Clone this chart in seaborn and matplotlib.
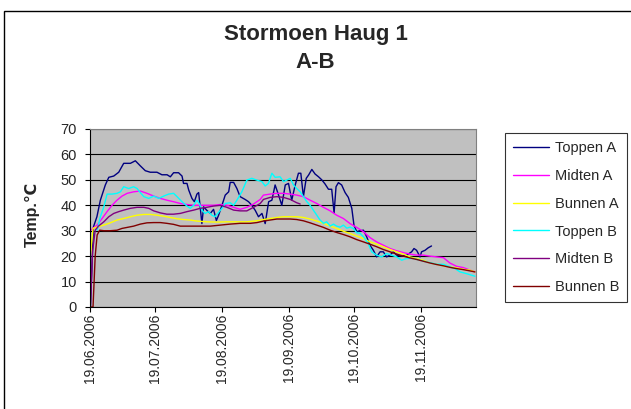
import numpy as np
import pandas as pd
import matplotlib
matplotlib.use("Agg")
import matplotlib.pyplot as plt
import matplotlib.patches as patches
import seaborn as sns

# ── Data (days after 19.06.2006, temperature in deg C)
START = pd.Timestamp("2006-06-19")

days_topA = [0, 1.4, 3.0, 4.6, 6.9, 8.5, 10.8, 13.1, 15.4, 18.5, 20.8, 23.1, 25.4, 27.7,
             30.8, 33.1, 35.5, 37.0, 38.5, 40.8, 42.4, 43.1, 44.7, 45.5, 47.0, 48.1, 49.3,
             50.1, 50.8, 51.6, 52.4, 53.9, 55.5, 57.0, 58.3, 59.3, 60.9, 62.4, 64.0, 64.7,
             66.3, 67.8, 69.3, 71.6, 73.2, 74.7, 76.3, 77.8, 79.4, 80.9, 82.5, 84.0, 85.5,
             87.1, 88.6, 90.2, 91.7, 93.2, 94.8, 96.3, 97.4, 98.6, 99.9, 101.0, 102.5, 104.0,
             105.6, 107.1, 108.6, 110.2, 111.7, 112.8, 113.7, 114.8, 116.3, 117.9, 119.4,
             121.0, 122.0, 123.3, 124.8, 126.4, 127.9, 129.4, 131.0, 132.5, 134.1, 135.6,
             137.1, 138.7, 140.2, 141.8, 144.1, 146.4, 148.7, 149.8, 151.0, 152.6, 153.3,
             154.9, 156.4, 157.9]
temp_topA = [0, 31.5, 35.5, 42, 48, 51, 51.5, 53, 56.5, 56.5, 57.5, 55.5, 53.6, 53,
             53, 52, 52, 51.2, 52.8, 52.8, 51.5, 48.6, 48.6, 46, 42.7, 41.4, 44.4,
             45, 39.4, 32.8, 39.4, 38, 36.8, 38.4, 34, 36, 40, 44, 45.3, 49,
             49, 46.6, 43.4, 42.3, 41.4, 40, 38, 35.5, 36.8, 32.8, 41.4, 42, 48,
             44, 40, 48, 48.6, 42, 48, 52.6, 52.6, 43.4, 50.6, 51.9, 54.1, 52.3,
             51.2, 50, 48.4, 46.3, 46.3, 37, 47.3, 48.9, 48, 45, 43.1,
             38.8, 32.2, 29.6, 30, 30.2, 27.6, 24.3, 22.3, 19.7, 21.7, 21.7,
             19.7, 20.4, 21.7, 20.4, 20, 20.4, 21.7, 23, 22.3, 19.7, 21.7,
             22.3, 23.3, 24]

days_midA = [0, 1.2, 3.1, 5.4, 7.7, 10.0, 12.3, 14.6, 17.0, 20.0, 23.1, 26.2, 29.3, 32.4,
             35.4, 38.5, 41.6, 44.7, 47.8, 52.4, 57.0, 60.1, 63.2, 66.3, 69.3, 72.4, 75.5,
             78.6, 80.1, 83.2, 86.3, 89.4, 92.5, 95.5, 98.6, 101.7, 104.8, 107.9, 111.0,
             114.0, 117.1, 120.2, 123.3, 126.4, 129.4, 132.5, 135.6, 138.7, 141.8, 144.9,
             147.9, 151.0, 154.1, 157.2, 160.3, 163.4, 166.4, 169.5, 172.6, 175.7, 178.0]
temp_midA = [30, 31, 32.2, 34.8, 37.5, 40, 42, 43.6, 44.7, 45.3, 45.6, 44.7, 43.6, 42.7,
             42, 41.4, 40.7, 40.3, 40, 40, 40, 40.3, 40, 39.2, 38.4, 39.2, 40.5,
             42.3, 44, 44.4, 44.7, 44.7, 44.4, 44, 43.4, 42, 40.7, 39.2, 37.8,
             36.1, 34.8, 32.8, 31.3, 29.6, 27.3, 25.6, 24.3, 23, 22.1, 21.4,
             20.8, 20.4, 20.4, 20, 19.7, 19.4, 17.3, 16, 15.5, 14.5, 13.8]

days_botA = [0, 1.2, 3.1, 6.2, 9.2, 12.3, 15.4, 18.5, 21.6, 24.7, 27.7, 30.8, 33.9, 37.0,
             40.1, 43.1, 46.2, 49.3, 53.9, 58.6, 63.2, 67.8, 72.4, 77.1, 80.1, 83.2, 86.3,
             89.4, 92.5, 95.5, 98.6, 101.7, 104.8, 107.9, 111.0, 114.0, 117.1, 120.2, 123.3,
             126.4, 129.4, 132.5, 135.6, 138.7, 141.8, 144.9, 147.9, 151.0, 154.1, 157.2,
             160.3, 163.4, 166.4, 169.5, 172.6, 175.7, 178.0]
temp_botA = [20.4, 30.9, 31.5, 32.2, 33.1, 34.2, 34.8, 35.5, 36.1, 36.4, 36.4, 36.1, 35.7, 35.2,
             34.7, 34.4, 34.2, 33.8, 33.5, 33.4, 33.5, 33.5, 33.5, 33.9, 34.4, 34.8, 35.2,
             35.5, 35.5, 35.5, 35.2, 34.6, 33.8, 32.9, 31.8, 30.9, 29.8, 28.9, 27.9,
             26.9, 25.6, 24.7, 23.7, 22.6, 21.7, 20.8, 19.7, 19.1, 18.4, 17.3,
             16.8, 16.2, 15.8, 15.4, 14.8, 14.5, 13.8]

days_topB = [3.1, 4.6, 6.2, 7.7, 10.0, 12.3, 13.9, 15.4, 17.7, 20.0, 21.6, 22.8, 24.7, 27.0,
             29.3, 31.6, 33.9, 36.2, 38.5, 40.1, 42.4, 44.7, 46.2, 47.8, 49.3, 50.5, 51.6,
             53.1, 54.7, 56.2, 57.7, 59.3, 60.9, 62.4, 64.7, 66.3, 67.8, 70.1, 72.4, 74.7,
             77.0, 79.4, 80.9, 82.4, 84.0, 85.5, 87.8, 89.4, 90.9, 92.5, 94.0, 95.5, 97.1,
             98.6, 100.2, 101.7, 103.2, 104.8, 106.3, 107.9, 109.4, 111.0, 112.5, 114.0,
             115.6, 117.1, 118.7, 120.2, 121.7, 123.3, 124.8, 126.4, 128.6, 130.2, 132.5,
             134.8, 137.1, 139.4, 141.8, 144.1, 146.4, 149.5, 152.6, 155.6, 157.9, 160.3,
             163.4, 166.4, 168.8, 171.1, 174.2, 178.0]
temp_topB = [30.2, 35.5, 39.4, 44.4, 44.4, 44.7, 45.3, 47.3, 46.6, 47.3, 46.6, 45.3, 43.4, 42.7,
             43.6, 42.7, 43.6, 44.4, 44.7, 43.4, 41.4, 39.7, 38.8, 40, 42, 40.5, 38.1,
             36.8, 37.5, 36.1, 35.5, 37.2, 38.8, 40.7, 41, 40, 42, 45.3, 49.9, 50.6,
             49.9, 49.3, 47.6, 48.6, 52.6, 51, 51.2, 49.3, 49.9, 50.6, 48, 46.6, 45.3,
             43.4, 41.4, 40, 38.1, 36.1, 34.2, 32.9, 33.5, 31.8, 32.6, 31.8,
             31.4, 32.2, 31, 31.4, 30.9, 29.2, 29, 27.6, 25, 21.7, 20.4,
             19.7, 21, 20.4, 19.7, 18.4, 19.1, 19.1, 18.4, 17.7, 17.3, 16.8,
             16.8, 15.8, 15.1, 13.8, 13.1, 12.1]

days_midB = [0, 1.0, 2.2, 3.7, 6.2, 8.5, 10.8, 13.1, 15.4, 18.5, 21.6, 24.7, 27.0, 29.3,
             32.4, 35.4, 38.5, 41.6, 44.7, 47.8, 50.8, 53.9, 57.0, 60.1, 63.2, 66.3, 69.3,
             72.4, 75.5, 78.6, 80.1, 83.2, 86.3, 89.4, 92.5, 95.5, 97.1]
temp_midB = [0, 22, 30.2, 31.8, 33.5, 35.5, 36.8, 37.5, 38.1, 38.8, 39.2, 39.2, 38.8, 37.8,
             37, 36.5, 36.5, 36.8, 37.5, 38.1, 38.8, 39.2, 39.7, 40, 39.2, 38.1, 37.8,
             37.8, 39.2, 40.7, 42.3, 43.1, 43.4, 43.1, 42.3, 41, 40.5]

days_botB = [0, 1.2, 2.2, 3.1, 4.3, 6.2, 9.2, 12.3, 14.6, 17.0, 20.0, 23.1, 26.2, 29.3,
             32.4, 35.4, 38.5, 41.6, 46.2, 50.8, 55.5, 60.1, 64.7, 69.3, 74.0, 77.1, 80.1,
             83.2, 86.3, 89.4, 92.5, 95.5, 98.6, 101.7, 104.8, 107.9, 111.0, 114.0, 117.1,
             120.2, 123.3, 126.4, 129.4, 132.5, 135.6, 138.7, 141.8, 144.9, 147.9, 151.0,
             154.1, 157.2, 160.3, 163.4, 166.4, 169.5, 172.6, 175.7, 178.0]
temp_botB = [0, 0, 20, 28.3, 30.2, 30, 30, 30.2, 30.9, 31.3, 31.8, 32.6, 33.1, 33.2,
             33.2, 32.9, 32.5, 31.8, 31.8, 31.8, 31.8, 32.2, 32.6, 32.9, 32.9, 33.2, 33.8,
             34.2, 34.6, 34.6, 34.6, 34.4, 33.9, 33.1, 32.2, 31.3, 30.2, 29.3, 28.5,
             27.6, 26.5, 25.6, 24.7, 23.7, 22.6, 21.7, 20.8, 20, 19.3, 18.7,
             18, 17.3, 16.7, 16.2, 15.6, 15.1, 14.7, 14.2, 13.8]

series_names = ["Toppen A", "Midten A", "Bunnen A", "Toppen B", "Midten B", "Bunnen B"]
series_days = [days_topA, days_midA, days_botA, days_topB, days_midB, days_botB]
series_temp = [temp_topA, temp_midA, temp_botA, temp_topB, temp_midB, temp_botB]
colors = ["#000080", "#FF00FF", "#FFFF00", "#00FFFF", "#800080", "#800000"]

tick_labels = ["19.06.2006", "19.07.2006", "19.08.2006",
               "19.09.2006", "19.10.2006", "19.11.2006"]
tick_dates = pd.to_datetime(tick_labels, format="%d.%m.%Y")

frames = []
for name, d, t in zip(series_names, series_days, series_temp):
    frames.append(pd.DataFrame({
        "date": START + pd.to_timedelta(d, unit="D"),
        "temp": t,
        "series": name,
    }))
df = pd.concat(frames, ignore_index=True)

# ── Plot
sns.set_style("ticks")
plt.rcParams["font.family"] = ["Liberation Sans", "DejaVu Sans"]

fig = plt.figure(figsize=(6.31, 4.09), dpi=100)
ax = fig.add_axes([90 / 631, 1 - 307 / 409, 386 / 631, 178 / 409])
ax.set_facecolor("#C0C0C0")

sns.lineplot(data=df, x="date", y="temp", hue="series", hue_order=series_names,
             palette=colors, estimator=None, sort=False, linewidth=1.0, ax=ax)

ax.set_ylim(0, 70)
ax.set_yticks(range(0, 71, 10))
ax.set_xlim(START - pd.Timedelta(days=0.2), START + pd.Timedelta(days=178.5))
ax.set_xticks(tick_dates)
ax.set_xticklabels(tick_labels, rotation=90)
ax.yaxis.grid(True, color="black", linewidth=0.8)
ax.set_axisbelow(True)
ax.tick_params(axis="both", direction="out", length=3.5, width=0.8, color="black")
ax.tick_params(axis="y", labelsize=10.5, pad=6)
ax.tick_params(axis="x", labelsize=10, pad=1)
for s in ["top", "right"]:
    ax.spines[s].set_color("#808080")
for s in ["left", "bottom"]:
    ax.spines[s].set_color("black")
for s in ax.spines.values():
    s.set_linewidth(0.8)
ax.set_xlabel("")
ax.set_ylabel("Temp.\u2103", fontsize=11.5, fontweight="bold")
ax.yaxis.label.set_va("center")
ax.yaxis.set_label_coords(-0.15, 0.52)

handles, labels = ax.get_legend_handles_labels()
ax.get_legend().remove()
leg = fig.legend(handles, labels, loc="upper left", bbox_to_anchor=(505 / 631, 1 - 133 / 409),
                 borderaxespad=0, fontsize=10.5, frameon=True, fancybox=False,
                 edgecolor="black", handlelength=2.5, handletextpad=0.35,
                 labelspacing=0.95, borderpad=0.55)
leg.get_frame().set_linewidth(0.8)

fig.text(0.5, 1 - 40 / 409, "Stormoen Haug 1", ha="center", va="baseline",
         fontsize=16, fontweight="bold")
fig.text(0.5, 1 - 68 / 409, "A-B", ha="center", va="baseline",
         fontsize=16, fontweight="bold")

# outer chart border
fig.patches.append(patches.Rectangle((4 / 631, -0.1), 1.2, 1.1 - 11 / 409, fill=False,
                                     edgecolor="black", linewidth=1.0,
                                     transform=fig.transFigure, figure=fig))

fig.savefig("out.png", dpi=100)
